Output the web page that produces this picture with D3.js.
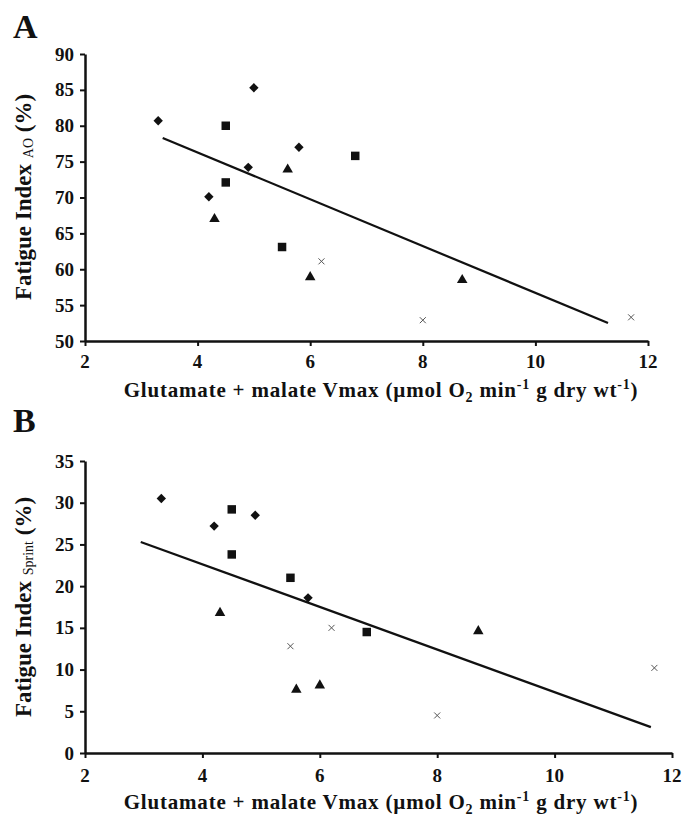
<!DOCTYPE html>
<html>
<head>
<meta charset="utf-8">
<script src="https://cdn.jsdelivr.net/npm/d3@7"></script>
<style>
  body { margin: 0; background: #fff; }
  text { font-family: "Liberation Serif", "Times New Roman", serif; font-weight: bold; fill: #111; }
</style>
</head>
<body>
<script>
'use strict';

// x axis ticks shared by both panels
var xTicks = [2, 4, 6, 8, 10, 12];

// panel A : fatigue index AO
var aYTicks    = [50, 55, 60, 65, 70, 75, 80, 85, 90];
var aDiamonds  = [[3.3, 80.7], [5.0, 85.3], [4.2, 70.1], [4.9, 74.2], [5.8, 77.0]];
var aSquares   = [[4.5, 80.0], [4.5, 72.1], [5.5, 63.1], [6.8, 75.8]];
var aTriangles = [[4.3, 67.0], [5.6, 73.9], [6.0, 58.9], [8.7, 58.5]];
var aCrosses   = [[6.2, 61.1], [8.0, 52.9], [11.7, 53.3]];
var aTrend     = [[3.38, 78.3], [11.29, 52.5]];

// panel B : fatigue index sprint
var bYTicks    = [0, 5, 10, 15, 20, 25, 30, 35];
var bDiamonds  = [[3.3, 30.5], [4.2, 27.2], [4.9, 28.5], [5.8, 18.6]];
var bSquares   = [[4.5, 29.2], [4.5, 23.8], [5.5, 21.0], [6.8, 14.5]];
var bTriangles = [[4.3, 16.8], [5.6, 7.6], [6.0, 8.1], [8.7, 14.6]];
var bCrosses   = [[5.5, 12.8], [6.2, 15.0], [8.0, 4.5], [11.7, 10.2]];
var bTrend     = [[2.95, 25.3], [11.64, 3.1]];

var svg = d3.select('body').append('svg')
  .attr('width', 683)
  .attr('height', 817);

drawPanel({
  letter: 'A', letterX: 13, letterY: 38,
  x0: 85, x1: 648, y0: 341, y1: 54,
  yDomain: [50, 90], yTicks: aYTicks,
  sub: 'AO', labelCx: 31, labelCy: 197,
  tickY: 368, titleY: 397,
  diamonds: aDiamonds, squares: aSquares, triangles: aTriangles, crosses: aCrosses, trend: aTrend
});

drawPanel({
  letter: 'B', letterX: 13, letterY: 432,
  x0: 85, x1: 672, y0: 753, y1: 461,
  yDomain: [0, 35], yTicks: bYTicks,
  sub: 'Sprint', labelCx: 31, labelCy: 607,
  tickY: 782, titleY: 809,
  diamonds: bDiamonds, squares: bSquares, triangles: bTriangles, crosses: bCrosses, trend: bTrend
});

function drawPanel(p) {
  var x = d3.scaleLinear().domain([2, 12]).range([p.x0, p.x1]);
  var y = d3.scaleLinear().domain(p.yDomain).range([p.y0, p.y1]);
  var g = svg.append('g');

  g.append('text')
    .attr('x', p.letterX).attr('y', p.letterY)
    .style('font-size', '34px')
    .text(p.letter);

  var yAxis = g.append('g')
    .attr('transform', 'translate(' + p.x0 + ',0)')
    .call(d3.axisLeft(y).tickValues(p.yTicks).tickSize(5).tickPadding(6).tickSizeOuter(0));
  var xAxis = g.append('g')
    .attr('transform', 'translate(0,' + p.y0 + ')')
    .call(d3.axisBottom(x).tickValues(xTicks).tickSize(5).tickSizeOuter(0).tickFormat(''));

  [yAxis, xAxis].forEach(function(a){
    a.select('.domain').attr('stroke', '#111').attr('stroke-width', 2.5);
    a.selectAll('.tick line').attr('stroke', '#111').attr('stroke-width', 2);
  });
  yAxis.selectAll('.tick text')
    .style('font-size', '19px')
    .style('font-family', '"Liberation Serif", serif')
    .style('font-weight', 'bold')
    .attr('fill', '#111');

  // x tick labels sit further down than the default axis labels
  g.selectAll('.xlab').data(xTicks).enter().append('text')
    .attr('class', 'xlab')
    .attr('x', function(d){ return x(d) })
    .attr('y', p.tickY)
    .attr('text-anchor', 'middle')
    .style('font-size', '19px')
    .text(function(d){ return d });

  // x axis title
  var t = g.append('text')
    .attr('x', 381)
    .attr('y', p.titleY)
    .attr('text-anchor', 'middle')
    .style('font-size', '21px')
    .style('letter-spacing', '0.8px');
  t.append('tspan').text('Glutamate + malate Vmax (\u00b5mol O');
  t.append('tspan').attr('dy', 5).style('font-size', '14px').text('2');
  t.append('tspan').attr('dy', -5).text(' min');
  t.append('tspan').attr('dy', -8).style('font-size', '14px').text('-1');
  t.append('tspan').attr('dy', 8).text(' g dry wt');
  t.append('tspan').attr('dy', -8).style('font-size', '14px').text('-1');
  t.append('tspan').attr('dy', 8).text(')');

  // y axis title
  var yl = g.append('text')
    .attr('transform', 'translate(' + p.labelCx + ',' + p.labelCy + ') rotate(-90)')
    .attr('text-anchor', 'middle')
    .style('font-size', '23px');
  yl.append('tspan').text('Fatigue Index ');
  yl.append('tspan').attr('dy', 2).style('font-size', '14px').style('font-weight', 'normal').text(p.sub);
  yl.append('tspan').attr('dy', -2).text(' (%)');

  // trend line
  g.append('path')
    .datum(p.trend)
    .attr('fill', 'none')
    .attr('stroke', '#111')
    .attr('stroke-width', 2.2)
    .attr('d', d3.line().x(function(d){ return x(d[0]) }).y(function(d){ return y(d[1]) }));

  g.selectAll('.dia').data(p.diamonds).enter().append('path')
    .attr('d', d3.symbol().type(d3.symbolSquare).size(44)())
    .attr('fill', '#111')
    .attr('transform', function(d){ return 'translate(' + x(d[0]) + ',' + y(d[1]) + ') rotate(45)' });

  g.selectAll('.sq').data(p.squares).enter().append('path')
    .attr('d', d3.symbol().type(d3.symbolSquare).size(72)())
    .attr('fill', '#111')
    .attr('transform', function(d){ return 'translate(' + x(d[0]) + ',' + y(d[1]) + ')' });

  g.selectAll('.tri').data(p.triangles).enter().append('path')
    .attr('d', d3.symbol().type(d3.symbolTriangle).size(48)())
    .attr('fill', '#111')
    .attr('transform', function(d){ return 'translate(' + x(d[0]) + ',' + y(d[1]) + ')' });

  g.selectAll('.cr').data(p.crosses).enter().append('path')
    .attr('d', 'M-3,-3L3,3M-3,3L3,-3')
    .attr('stroke', '#555')
    .attr('stroke-width', 1)
    .attr('fill', 'none')
    .attr('transform', function(d){ return 'translate(' + x(d[0]) + ',' + y(d[1]) + ')' });
}
</script>
</body>
</html>
